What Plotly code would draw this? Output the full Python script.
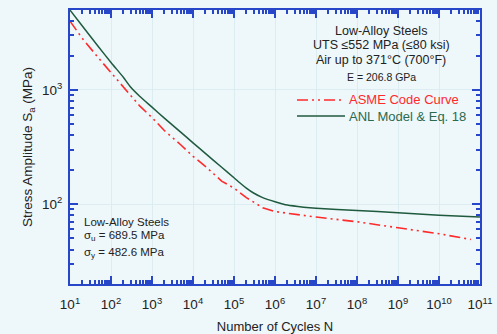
import plotly.graph_objects as go

# ASME Code design curve, low-alloy steels (N, Sa in MPa)
asme_n = [1e1, 2e1, 5e1, 1e2, 2e2, 5e2, 1e3, 2e3, 5e3, 1e4, 2e4, 5e4,
          1e5, 2e5, 5e5, 1e6, 1e7, 1e8, 1e9, 1e10, 6e10]
asme_sa = [4000, 2827, 1896, 1413, 1069, 724, 572, 441, 331, 262, 214, 159,
           138, 114, 93, 86, 77, 70, 62, 55, 49]

# ANL model design curve (N, Sa in MPa)
anl_n = [1e1, 2e1, 5e1, 1e2, 2e2, 3e2, 5e2, 1e3, 2e3, 5e3, 1e4, 2e4, 5e4,
         1e5, 1.5e5, 2e5, 3e5, 5e5, 1e6, 2e6, 5e6, 1e7, 1e8, 1e9, 1e10, 1e11]
anl_sa = [5000, 3630, 2380, 1740, 1290, 1060, 880, 706, 566, 427, 344, 278,
          210, 170, 150, 138, 125, 114, 105, 98, 94, 92, 88, 84, 80, 77]

x_tickvals = [10 ** k for k in range(1, 12)]
x_ticktext = ["10<sup>%d</sup>" % k for k in range(1, 12)]
y_tickvals = [1e2, 1e3]
y_ticktext = ["10<sup>2</sup>", "10<sup>3</sup>"]

RED = "#ff2a2a"
GREEN = "#1f5a3e"
AXIS = "#2846c8"
BG = "#eef7fa"
FONT = "Liberation Sans, Arial, sans-serif"
RED_DASH = "11px,4px,2px,4px,2px,4px"

# plot area in pixels (for placing notes and legend keys)
L, T, W, H = 70, 10, 410, 274


def px(xp):
    return (xp - L) / W


def py(yp):
    return 1 - (yp - T) / H


fig = go.Figure()
fig.add_trace(go.Scatter(
    x=asme_n, y=asme_sa, mode="lines", name="ASME Code Curve",
    line=dict(color=RED, width=1.6, dash=RED_DASH),
))
fig.add_trace(go.Scatter(
    x=anl_n, y=anl_sa, mode="lines", name="ANL Model & Eq. 18",
    line=dict(color=GREEN, width=1.5, shape="spline", smoothing=0.6),
))

axis_common = dict(
    type="log", showline=True, linecolor=AXIS, linewidth=2,
    mirror="ticks", ticks="inside", tickcolor=AXIS, ticklen=8, tickwidth=1.5,
    showgrid=True, gridcolor="#dcedf2", gridwidth=1, zeroline=False,
    tickfont=dict(family=FONT, size=13.5, color="#222"),
    automargin=False,
    minor=dict(ticks="inside", ticklen=4, tickcolor=AXIS, dtick="D1",
               showgrid=False),
)

fig.update_xaxes(
    **axis_common, range=[1, 11], tickvals=x_tickvals, ticktext=x_ticktext,
    ticklabelstandoff=7,
    title=dict(text="Number of Cycles N",
               font=dict(family=FONT, size=13, color="#222"), standoff=13),
)
fig.update_yaxes(
    **axis_common, range=[1.30, 3.70], tickvals=y_tickvals, ticktext=y_ticktext,
    ticklabelstandoff=3,
    title=dict(text="Stress Amplitude S<sub>a</sub> (MPa)",
               font=dict(family=FONT, size=13.5, color="#222"), standoff=6),
)

# Material and environment notes
notes_top = [
    ("Low-Alloy Steels", 31, 12.5),
    ("UTS ≤552 MPa (≤80 ksi)", 45, 12.5),
    ("Air up to 371°C (700°F)", 60, 12.5),
    ("E = 206.8 GPa", 77, 10.5),
]
for txt, ypx, size in notes_top:
    fig.add_annotation(text=txt, xref="paper", yref="paper",
                       x=px(381), y=py(ypx),
                       showarrow=False, xanchor="center", yanchor="middle",
                       font=dict(family=FONT, size=size, color="#222"))

notes_bottom = [
    ("Low-Alloy Steels", 222),
    ("σ<sub>u</sub> = 689.5 MPa", 236),
    ("σ<sub>y</sub> = 482.6 MPa", 253),
]
for txt, ypx in notes_bottom:
    fig.add_annotation(text=txt, xref="paper", yref="paper",
                       x=px(82), y=py(ypx),
                       showarrow=False, xanchor="left", yanchor="middle",
                       font=dict(family=FONT, size=11.5, color="#222"))

# Legend keys
legend_rows = [
    ("ASME Code Curve", 100, RED, RED, RED_DASH, 1.6),
    ("ANL Model &amp; Eq. 18", 116, GREEN, "#2a6a50", "solid", 1.5),
]
for label, ypx, lcol, tcol, dash, lw in legend_rows:
    fig.add_shape(type="line", xref="paper", yref="paper",
                  x0=px(297), x1=px(345), y0=py(ypx), y1=py(ypx),
                  line=dict(color=lcol, width=lw, dash=dash))
    fig.add_annotation(text=label, xref="paper", yref="paper",
                       x=px(347), y=py(ypx), showarrow=False,
                       xanchor="left", yanchor="middle",
                       font=dict(family=FONT, size=13, color=tcol))

fig.update_layout(
    width=497, height=334,
    margin=dict(l=L, r=497 - L - W, t=T, b=334 - T - H),
    paper_bgcolor=BG, plot_bgcolor=BG,
    showlegend=False,
)

fig.write_html("out.html")
